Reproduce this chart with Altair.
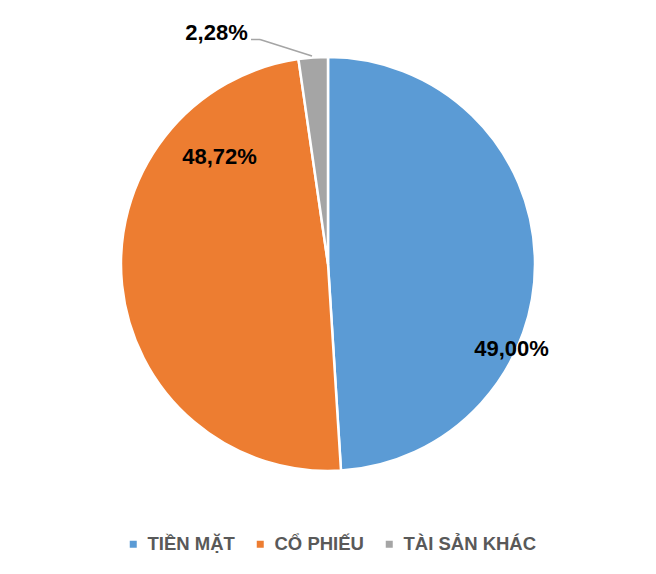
import altair as alt
import pandas as pd

categories = ["TIỀN MẶT", "CỔ PHIẾU", "TÀI SẢN KHÁC"]
values = [49.00, 48.72, 2.28]
colors = ["#5B9BD5", "#ED7D31", "#A5A5A5"]

df = pd.DataFrame({
    "cat": categories,
    "value": values,
    "idx": list(range(len(categories))),
})
labels = [f"{v:.2f}".replace(".", ",") + "%" for v in values]

FONT = "Liberation Sans"

pie = alt.Chart(df).mark_arc(
    outerRadius=207, stroke="white", strokeWidth=2.5
).encode(
    theta=alt.Theta("value:Q", stack=True),
    order=alt.Order("idx:Q"),
    color=alt.Color(
        "cat:N",
        scale=alt.Scale(domain=categories, range=colors),
        legend=alt.Legend(
            orient="none", legendX=116, legendY=527, direction="horizontal",
            title=None, symbolType="square", symbolSize=49, symbolStrokeWidth=0,
            labelFont=FONT, labelFontSize=18.5, labelFontWeight="bold",
            labelColor="#595959", labelOffset=5, columnPadding=16, padding=0,
            gridAlign="none",
        ),
    ),
)

one = pd.DataFrame({"a": [0]})

def label(text, x, y):
    return alt.Chart(one).mark_text(
        text=text, font=FONT, fontSize=22, fontWeight="bold", color="black",
        align="center", baseline="alphabetic",
    ).encode(x=alt.value(x), y=alt.value(y))

leader1 = alt.Chart(one).mark_rule(color="#A5A5A5", strokeWidth=1.5).encode(
    x=alt.value(243), x2=alt.value(252), y=alt.value(31.5), y2=alt.value(31.5))
leader2 = alt.Chart(one).mark_rule(color="#A5A5A5", strokeWidth=1.5).encode(
    x=alt.value(252), x2=alt.value(304), y=alt.value(31.5), y2=alt.value(48))

chart = alt.layer(
    pie, leader1, leader2,
    label(labels[0], 503.5, 348),
    label(labels[1], 211.5, 155.5),
    label(labels[2], 208.5, 32),
).properties(width=640, height=512, padding=0).configure_view(stroke=None)

chart.save("out.html", embed_options={"renderer": "svg", "actions": False})
